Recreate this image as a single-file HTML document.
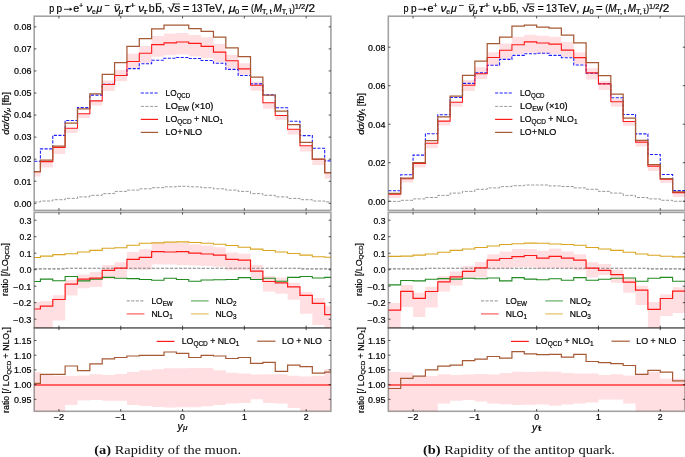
<!DOCTYPE html>
<html><head><meta charset="utf-8"><style>
html,body{margin:0;padding:0;background:#fff;overflow:hidden;width:685px;height:457px;}
svg{display:block;}
</style></head><body>
<svg width="685" height="457" viewBox="0 0 685 457">
<rect width="685" height="457" fill="#fff"/>
<clipPath id="ct0"><rect x="34.2" y="16.2" width="296.7" height="194.2"/></clipPath>
<clipPath id="cm0"><rect x="34.2" y="212.4" width="296.7" height="115.5"/></clipPath>
<clipPath id="cb0"><rect x="34.2" y="327.9" width="296.7" height="83.4"/></clipPath>
<g clip-path="url(#ct0)">
<path d="M34.23,171.5H40.41V161.3H52.77V147.1H65.13V127.9H77.49V113.5H89.85V100.6H102.21V80.5H114.57V70.1H126.93V53.7H139.29V46.1H151.65V36.1H164.01V33.4H176.37V33.1H188.73V35H201.09V37.2H213.45V44.1H225.81V54.8H238.17V63.3H250.53V81.6H262.89V102.5H275.25V115.2H287.61V129H299.97V145.4H312.33V158.9H324.69V172.4H330.87V178.5H324.69V165H312.33V151.5H299.97V134.4H287.61V120.1H275.25V108.7H262.89V90.8H250.53V74.7H238.17V68.6H225.81V62.5H213.45V57.9H201.09V56.4H188.73V54.5H176.37V55.3H164.01V56.8H151.65V62.9H139.29V68.3H126.93V81.3H114.57V90.9H102.21V105.4H89.85V117.9H77.49V133.1H65.13V154.1H52.77V167.6H40.41V176.4H34.23Z" fill="#ffdfe2"/>
<path d="M34.23,201.9H40.41V201H52.77V199.7H65.13V198.4H77.49V196.9H89.85V195.3H102.21V193.6H114.57V191.4H126.93V190.1H139.29V188.8H151.65V187.7H164.01V186.8H176.37V186.3H188.73V186.8H201.09V187.7H213.45V188.8H225.81V190.1H238.17V191.4H250.53V193.6H262.89V195.3H275.25V196.9H287.61V198.4H299.97V199.7H312.33V201H324.69V201.9H330.87" fill="none" stroke="#808080" stroke-width="0.8" stroke-dasharray="3.1 1.45"/>
<path d="M34.23,161.3H40.41V148.9H52.77V135.4H65.13V120.5H77.49V107.6H89.85V95.1H102.21V84.3H114.57V75.5H126.93V68.6H139.29V63.7H151.65V60.3H164.01V58.3H176.37V57.5H188.73V58.5H201.09V60.5H213.45V63.3H225.81V69.4H238.17V75.5H250.53V83.9H262.89V94.9H275.25V107.8H287.61V121.3H299.97V135.6H312.33V148.3H324.69V160.9H330.87" fill="none" stroke="#1f1fff" stroke-width="1.1" stroke-dasharray="3.1 1.45"/>
<path d="M34.23,171.8H40.41V161.6H52.77V147.4H65.13V128.2H77.49V113.8H89.85V100.9H102.21V84.5H114.57V75.5H126.93V61.5H139.29V53.3H151.65V44.6H164.01V42.9H176.37V42H188.73V43.4H201.09V46.4H213.45V52.1H225.81V60.8H238.17V68.9H250.53V85.3H262.89V102.8H275.25V115.5H287.61V129.3H299.97V145.7H312.33V159.2H324.69V172.7H330.87" fill="none" stroke="#ff1a1a" stroke-width="1.1"/>
<path d="M34.23,171.5H40.41V160.1H52.77V146.1H65.13V123.2H77.49V108.9H89.85V93.8H102.21V74.3H114.57V62.7H126.93V46.4H139.29V38.6H151.65V28.8H164.01V25.1H176.37V25.1H188.73V28.6H201.09V31.3H213.45V37.1H225.81V47.9H238.17V56.6H250.53V77.2H262.89V95.1H275.25V111.2H287.61V124.7H299.97V142.4H312.33V159.1H324.69V172.6H330.87" fill="none" stroke="#a65a35" stroke-width="1.25"/>
</g>
<g clip-path="url(#cm0)">
<path d="M34.23,302.1H40.41V301H52.77V295.2H65.13V279.9H77.49V274.5H89.85V272H102.21V265H114.57V262.2H126.93V252H139.29V249.2H151.65V243.1H164.01V243.1H176.37V243.1H188.73V244.3H201.09V245.5H213.45V247.2H225.81V252.5H238.17V253.7H250.53V265H262.89V276.2H275.25V277.4H287.61V282.7H299.97V292.1H312.33V298H324.69V305.7H330.87V335H324.69V324.9H312.33V313.8H299.97V299.8H287.61V293.7H275.25V291.5H262.89V279.7H250.53V270.3H238.17V270.3H225.81V266.7H213.45V266H201.09V265.6H188.73V265H176.37V264.4H164.01V264.4H151.65V269.7H139.29V269.7H126.93V277.4H114.57V279.1H102.21V286.9H89.85V288.3H77.49V295.5H65.13V320.5H52.77V335H40.41V335H34.23Z" fill="#ffdfe2"/>
<path d="M34.23,268.9H40.41V268.9H52.77V268.9H65.13V268.2H77.49V268.2H89.85V268.2H102.21V268.2H114.57V268.2H126.93V268.2H139.29V268.2H151.65V268.2H164.01V268.2H176.37V268.2H188.73V268.2H201.09V268.2H213.45V268.2H225.81V268.2H238.17V268.2H250.53V268.2H262.89V268.2H275.25V268.2H287.61V268.2H299.97V268.9H312.33V268.9H324.69V268.9H330.87" fill="none" stroke="#808080" stroke-width="1.1" stroke-dasharray="3.1 1.45"/>
<path d="M34.23,257.5H40.41V256.1H52.77V254.6H65.13V253.7H77.49V252H89.85V250.4H102.21V248.3H114.57V247.8H126.93V245.2H139.29V243.3H151.65V242.9H164.01V242.1H176.37V241.9H188.73V242.5H201.09V243.3H213.45V244.3H225.81V245.5H238.17V247.2H250.53V249.1H262.89V250.5H275.25V252H287.61V253.5H299.97V255.1H312.33V256.7H324.69V257.3H330.87" fill="none" stroke="#daa520" stroke-width="1.1"/>
<path d="M34.23,281.5H40.41V279.1H52.77V280.7H65.13V276.5H77.49V280.9H89.85V279.1H102.21V277.4H114.57V278.2H126.93V278.6H139.29V279.5H151.65V280.3H164.01V278.3H176.37V279.5H188.73V281.2H201.09V280H213.45V279.7H225.81V279.5H238.17V277.6H250.53V279.5H262.89V278.3H275.25V281.2H287.61V277.4H299.97V276.5H312.33V278H324.69V277.4H330.87" fill="none" stroke="#228b22" stroke-width="1.1"/>
<path d="M34.23,309H40.41V306.2H52.77V299.5H65.13V284.2H77.49V279.1H89.85V278.1H102.21V270.3H114.57V268.2H126.93V259.4H139.29V257.3H151.65V251.6H164.01V252H176.37V251.7H188.73V253.1H201.09V254H213.45V255.1H225.81V259.4H238.17V260.2H250.53V271.2H262.89V281.5H275.25V282.9H287.61V286.8H299.97V295.4H312.33V303.4H324.69V314.6H330.87" fill="none" stroke="#ff1a1a" stroke-width="1.2"/>
</g>
<g clip-path="url(#cb0)">
<path d="M34.23,372.1H40.41V375H52.77V375.8H65.13V376.1H77.49V375.5H89.85V374.3H102.21V375H114.57V374H126.93V372.1H139.29V370.2H151.65V369.2H164.01V368.2H176.37V368.3H188.73V368.1H201.09V368.1H213.45V370.2H225.81V372.8H238.17V373.6H250.53V374.6H262.89V374.3H275.25V374.3H287.61V375.8H299.97V376.5H312.33V375.8H324.69V369.2H330.87V415H324.69V415H312.33V415H299.97V408H287.61V403.6H275.25V402.9H262.89V399.2H250.53V402.9H238.17V403.6H225.81V405.1H213.45V406.2H201.09V407.3H188.73V407.3H176.37V407.5H164.01V407H151.65V406H139.29V405H126.93V400.7H114.57V400.7H102.21V400H89.85V400.4H77.49V405H65.13V415H52.77V415H40.41V415H34.23Z" fill="#ffdfe2"/>
<path d="M34.2,385.0H330.9" fill="none" stroke="#ff6060" stroke-width="1.8"/>
<path d="M34.23,383.4H40.41V374.3H52.77V374.3H65.13V366H77.49V370.6H89.85V363.8H102.21V358.9H114.57V357.5H126.93V356H139.29V355.3H151.65V355.3H164.01V352H176.37V353.3H188.73V357.5H201.09V355.3H213.45V356H225.81V358.5H238.17V357.5H250.53V363.3H262.89V362.3H275.25V371.4H287.61V365.2H299.97V366.7H312.33V373.1H324.69V372.1H330.87" fill="none" stroke="#a65a35" stroke-width="1.2"/>
</g>
<rect x="34.2" y="16.2" width="296.7" height="194.2" fill="none" stroke="#000" stroke-opacity="0.36" stroke-width="1.6"/>
<rect x="34.2" y="212.4" width="296.7" height="115.5" fill="none" stroke="#000" stroke-opacity="0.36" stroke-width="1.6"/>
<rect x="34.2" y="327.9" width="296.7" height="83.4" fill="none" stroke="#000" stroke-opacity="0.36" stroke-width="1.6"/>
<path d="M58.95,16.2v2.2M58.95,210.4v-2.2M120.75,16.2v2.2M120.75,210.4v-2.2M182.55,16.2v2.2M182.55,210.4v-2.2M244.35,16.2v2.2M244.35,210.4v-2.2M306.15,16.2v2.2M306.15,210.4v-2.2M58.95,212.4v2.2M58.95,327.9v-2.2M120.75,212.4v2.2M120.75,327.9v-2.2M182.55,212.4v2.2M182.55,327.9v-2.2M244.35,212.4v2.2M244.35,327.9v-2.2M306.15,212.4v2.2M306.15,327.9v-2.2M58.95,327.9v2.2M58.95,411.3v-2.2M120.75,327.9v2.2M120.75,411.3v-2.2M182.55,327.9v2.2M182.55,411.3v-2.2M244.35,327.9v2.2M244.35,411.3v-2.2M306.15,327.9v2.2M306.15,411.3v-2.2M34.2,203.3h2.2M330.9,203.3h-2.2M34.2,181.24h2.2M330.9,181.24h-2.2M34.2,159.18h2.2M330.9,159.18h-2.2M34.2,137.12h2.2M330.9,137.12h-2.2M34.2,115.06h2.2M330.9,115.06h-2.2M34.2,93h2.2M330.9,93h-2.2M34.2,70.94h2.2M330.9,70.94h-2.2M34.2,48.88h2.2M330.9,48.88h-2.2M34.2,26.82h2.2M330.9,26.82h-2.2M34.2,319.2h2.2M330.9,319.2h-2.2M34.2,302.7h2.2M330.9,302.7h-2.2M34.2,286.2h2.2M330.9,286.2h-2.2M34.2,269.7h2.2M330.9,269.7h-2.2M34.2,253.2h2.2M330.9,253.2h-2.2M34.2,236.7h2.2M330.9,236.7h-2.2M34.2,220.2h2.2M330.9,220.2h-2.2M34.2,399.3h2.2M330.9,399.3h-2.2M34.2,384.6h2.2M330.9,384.6h-2.2M34.2,369.9h2.2M330.9,369.9h-2.2M34.2,355.2h2.2M330.9,355.2h-2.2M34.2,340.5h2.2M330.9,340.5h-2.2" stroke="#222" stroke-width="0.8" fill="none"/>
<clipPath id="ct1"><rect x="388.3" y="16.2" width="296.7" height="194.2"/></clipPath>
<clipPath id="cm1"><rect x="388.3" y="212.4" width="296.7" height="115.5"/></clipPath>
<clipPath id="cb1"><rect x="388.3" y="327.9" width="296.7" height="83.4"/></clipPath>
<g clip-path="url(#ct1)">
<path d="M388.33,193.4H400.69V178.5H413.05V162.6H425.41V142.4H437.77V120.8H450.13V101.5H462.49V80H474.85V67.3H487.21V52.3H499.57V43.5H511.93V36.8H524.29V34.7H536.65V35.8H549.01V36.7H561.37V42H573.73V52.5H586.09V68.2H598.45V80.7H610.81V98.8H623.17V121.2H635.53V141.8H647.89V165.8H660.25V178.9H672.61V192.3H684.97V197H672.61V183H660.25V171H647.89V146.5H635.53V125.7H623.17V106.7H610.81V89.9H598.45V79.5H586.09V64.3H573.73V57H561.37V54H549.01V53.4H536.65V52.8H524.29V54H511.93V59.2H499.57V65.6H487.21V79H474.85V90.9H462.49V106.8H450.13V125.6H437.77V148.2H425.41V167.5H413.05V182.5H400.69V198H388.33Z" fill="#ffdfe2"/>
<path d="M388.33,201.4H400.69V200.3H413.05V198.9H425.41V197.5H437.77V195.4H450.13V193.1H462.49V191.4H474.85V189.3H487.21V187.9H499.57V186.6H511.93V185.7H524.29V185H536.65V185H549.01V185.9H561.37V186.5H573.73V187.9H586.09V189.3H598.45V191.4H610.81V193.1H623.17V195.4H635.53V197.5H647.89V198.9H660.25V200.3H672.61V201.3H684.97" fill="none" stroke="#808080" stroke-width="0.8" stroke-dasharray="3.1 1.45"/>
<path d="M388.33,190.7H400.69V174.8H413.05V155.1H425.41V133.8H437.77V114.7H450.13V97.5H462.49V83.4H474.85V72.9H487.21V65.3H499.57V59.4H511.93V55.4H524.29V53.7H536.65V53.2H549.01V55.4H561.37V57.8H573.73V65H586.09V73.3H598.45V83.6H610.81V97.8H623.17V114.5H635.53V133.9H647.89V154.5H660.25V174.5H672.61V190.6H684.97" fill="none" stroke="#1f1fff" stroke-width="1.1" stroke-dasharray="3.1 1.45"/>
<path d="M388.33,194.2H400.69V178.7H413.05V163.5H425.41V143.2H437.77V121.1H450.13V102.3H462.49V85.3H474.85V73.7H487.21V57.5H499.57V50.2H511.93V44.8H524.29V41.9H536.65V43H549.01V44.1H561.37V50.1H573.73V57.6H586.09V72.9H598.45V83.9H610.81V101.8H623.17V121.5H635.53V142.1H647.89V166.1H660.25V179.2H672.61V192.6H684.97" fill="none" stroke="#ff1a1a" stroke-width="1.1"/>
<path d="M388.33,193.3H400.69V178.1H413.05V162.7H425.41V140.6H437.77V116.9H450.13V96.2H462.49V75.3H474.85V61.1H487.21V43.6H499.57V37H511.93V26.1H524.29V25H536.65V27.1H549.01V28.2H561.37V35.2H573.73V42.9H586.09V62.5H598.45V75.7H610.81V94H623.17V118.2H635.53V140.3H647.89V164.7H660.25V178.6H672.61V191.8H684.97" fill="none" stroke="#a65a35" stroke-width="1.25"/>
</g>
<g clip-path="url(#cm1)">
<path d="M388.33,303.1H400.69V285H413.05V292.7H425.41V286.8H437.77V276.2H450.13V271.5H462.49V266.1H474.85V262H487.21V254.3H499.57V251.4H511.93V249H524.29V249H536.65V250.8H549.01V248.4H561.37V251.4H573.73V254.3H586.09V262.2H598.45V264.1H610.81V269.7H623.17V278.4H635.53V285.7H647.89V302H660.25V294.2H672.61V287.3H684.97V312.9H672.61V315.9H660.25V335H647.89V305H635.53V292.8H623.17V282.7H610.81V275H598.45V277.4H586.09V270.3H573.73V268.5H561.37V267.9H549.01V269.1H536.65V267.3H524.29V267.3H511.93V268.5H499.57V269.7H487.21V277.4H474.85V278.6H462.49V285.6H450.13V291.5H437.77V307.5H425.41V317H413.05V306.9H400.69V335H388.33Z" fill="#ffdfe2"/>
<path d="M388.33,268.9H400.69V268.9H413.05V268.9H425.41V268.2H437.77V268.2H450.13V268.2H462.49V268.2H474.85V268.2H487.21V268.2H499.57V268.2H511.93V268.2H524.29V268.2H536.65V268.2H549.01V268.2H561.37V268.2H573.73V268.2H586.09V268.2H598.45V268.2H610.81V268.2H623.17V268.2H635.53V268.2H647.89V268.9H660.25V268.9H672.61V268.9H684.97" fill="none" stroke="#808080" stroke-width="1.1" stroke-dasharray="3.1 1.45"/>
<path d="M388.33,256.4H400.69V256.1H413.05V255.1H425.41V254H437.77V252.3H450.13V250.4H462.49V249H474.85V247.5H487.21V246H499.57V244.5H511.93V243.7H524.29V243.1H536.65V243.3H549.01V244H561.37V244.5H573.73V245.2H586.09V247.5H598.45V249H610.81V250.4H623.17V252.3H635.53V254H647.89V255.3H660.25V256.3H672.61V256.9H684.97" fill="none" stroke="#daa520" stroke-width="1.1"/>
<path d="M388.33,284.9H400.69V280.5H413.05V280.9H425.41V279.3H437.77V278.6H450.13V279.1H462.49V278.2H474.85V278.8H487.21V278H499.57V280.9H511.93V277.6H524.29V279.1H536.65V279.8H549.01V278.8H561.37V280.3H573.73V277.6H586.09V280.3H598.45V279.3H610.81V278.2H623.17V278H635.53V281.2H647.89V278.3H660.25V277.4H672.61V281.2H684.97" fill="none" stroke="#228b22" stroke-width="1.1"/>
<path d="M388.33,310.2H400.69V291.3H413.05V298.4H425.41V291.5H437.77V281.9H450.13V276.8H462.49V271.4H474.85V267.9H487.21V260.2H499.57V258.5H511.93V256.7H524.29V255.5H536.65V258.2H549.01V256.3H561.37V258.2H573.73V260.2H586.09V268.2H598.45V270.3H610.81V274.6H623.17V282.2H635.53V290.2H647.89V309.4H660.25V298.5H672.61V291.2H684.97" fill="none" stroke="#ff1a1a" stroke-width="1.2"/>
</g>
<g clip-path="url(#cb1)">
<path d="M388.33,372.1H400.69V372.5H413.05V376.5H425.41V376.1H437.77V374.3H450.13V375H462.49V374.4H474.85V374H487.21V374.4H499.57V372.9H511.93V371.8H524.29V372H536.65V371.4H549.01V371.8H561.37V372.9H573.73V373.5H586.09V373.5H598.45V375H610.81V374.3H623.17V375.5H635.53V373.6H647.89V372.1H660.25V378.7H672.61V378.7H684.97V415H672.61V415H660.25V415H647.89V415H635.53V403.6H623.17V399.5H610.81V399.5H598.45V402.4H586.09V403.5H573.73V404.5H561.37V405.7H549.01V404.6H536.65V404.8H524.29V405.1H511.93V404.2H499.57V403.5H487.21V401.4H474.85V400H462.49V400.7H450.13V403.6H437.77V415H425.41V415H413.05V415H400.69V415H388.33Z" fill="#ffdfe2"/>
<path d="M388.3,385.0H685" fill="none" stroke="#ff6060" stroke-width="1.8"/>
<path d="M388.33,388.5H400.69V378.4H413.05V376.1H425.41V369.9H437.77V366.2H450.13V365.2H462.49V360.6H474.85V359.1H487.21V356.5H499.57V358.2H511.93V351.6H524.29V353.8H536.65V354.7H549.01V354.3H561.37V357.1H573.73V354.3H586.09V361.5H598.45V362.6H610.81V363.6H623.17V365.5H635.53V374.3H647.89V370.3H660.25V372.1H672.61V380.9H684.97" fill="none" stroke="#a65a35" stroke-width="1.2"/>
</g>
<rect x="388.3" y="16.2" width="296.7" height="194.2" fill="none" stroke="#000" stroke-opacity="0.36" stroke-width="1.6"/>
<rect x="388.3" y="212.4" width="296.7" height="115.5" fill="none" stroke="#000" stroke-opacity="0.36" stroke-width="1.6"/>
<rect x="388.3" y="327.9" width="296.7" height="83.4" fill="none" stroke="#000" stroke-opacity="0.36" stroke-width="1.6"/>
<path d="M413.05,16.2v2.2M413.05,210.4v-2.2M474.85,16.2v2.2M474.85,210.4v-2.2M536.65,16.2v2.2M536.65,210.4v-2.2M598.45,16.2v2.2M598.45,210.4v-2.2M660.25,16.2v2.2M660.25,210.4v-2.2M413.05,212.4v2.2M413.05,327.9v-2.2M474.85,212.4v2.2M474.85,327.9v-2.2M536.65,212.4v2.2M536.65,327.9v-2.2M598.45,212.4v2.2M598.45,327.9v-2.2M660.25,212.4v2.2M660.25,327.9v-2.2M413.05,327.9v2.2M413.05,411.3v-2.2M474.85,327.9v2.2M474.85,411.3v-2.2M536.65,327.9v2.2M536.65,411.3v-2.2M598.45,327.9v2.2M598.45,411.3v-2.2M660.25,327.9v2.2M660.25,411.3v-2.2M388.3,201.2h2.2M685,201.2h-2.2M388.3,162.7h2.2M685,162.7h-2.2M388.3,124.2h2.2M685,124.2h-2.2M388.3,85.7h2.2M685,85.7h-2.2M388.3,47.2h2.2M685,47.2h-2.2M388.3,319.2h2.2M685,319.2h-2.2M388.3,302.7h2.2M685,302.7h-2.2M388.3,286.2h2.2M685,286.2h-2.2M388.3,269.7h2.2M685,269.7h-2.2M388.3,253.2h2.2M685,253.2h-2.2M388.3,236.7h2.2M685,236.7h-2.2M388.3,220.2h2.2M685,220.2h-2.2M388.3,399.3h2.2M685,399.3h-2.2M388.3,384.6h2.2M685,384.6h-2.2M388.3,369.9h2.2M685,369.9h-2.2M388.3,355.2h2.2M685,355.2h-2.2M388.3,340.5h2.2M685,340.5h-2.2" stroke="#222" stroke-width="0.8" fill="none"/>
<path d="M64,9.3H71.5" stroke="#1a1a1a" stroke-width="0.9" fill="none"/>
<path d="M69.6,7.6L72.4,9.3L69.6,11.0Z" fill="#1a1a1a" stroke="none"/>
<path d="M115,4.7H119.8" stroke="#000" stroke-width="0.7"/>
<path d="M155.8,3.6H161.3" stroke="#000" stroke-width="0.7"/>
<path d="M172.2,3.9H180" stroke="#000" stroke-width="0.7"/>
<path d="M288.6,8.6H291.2" stroke="#000" stroke-width="0.5"/>
<path d="M418.3,9.3H425.8" stroke="#1a1a1a" stroke-width="0.9" fill="none"/>
<path d="M423.9,7.6L426.7,9.3L423.9,11.0Z" fill="#1a1a1a" stroke="none"/>
<path d="M469.3,4.7H474.1" stroke="#000" stroke-width="0.7"/>
<path d="M510.1,3.6H515.6" stroke="#000" stroke-width="0.7"/>
<path d="M526.5,3.9H534.3" stroke="#000" stroke-width="0.7"/>
<path d="M642.9,8.6H645.5" stroke="#000" stroke-width="0.5"/>
<path d="M140.8,93.0H158.1" stroke="#1f1fff" stroke-width="1.2" stroke-dasharray="3.1 1.45"/>
<path d="M140.8,106.4H158.1" stroke="#808080" stroke-width="0.8" stroke-dasharray="3.1 1.45"/>
<path d="M140.8,119.4H158.1" stroke="#ff1a1a" stroke-width="1.2"/>
<path d="M140.8,132.4H158.1" stroke="#a65a35" stroke-width="1.2"/>
<g stroke-opacity="0.7">
<path d="M126.7,300.9H144.4" stroke="#808080" stroke-width="1.1" stroke-dasharray="3.1 1.45"/>
<path d="M126.7,313.9H144.4" stroke="#ff1a1a" stroke-width="1.2"/>
<path d="M191,300.9H208.6" stroke="#228b22" stroke-width="1.2"/>
<path d="M191,313.9H208.6" stroke="#daa520" stroke-width="1.2"/>
</g>
<path d="M156.7,341.4H174.5" stroke="#ff1a1a" stroke-width="1.2"/>
<path d="M257.2,341.2H275.5" stroke="#a65a35" stroke-width="1.2"/>
<path d="M495.1,93.0H512.4" stroke="#1f1fff" stroke-width="1.2" stroke-dasharray="3.1 1.45"/>
<path d="M495.1,106.4H512.4" stroke="#808080" stroke-width="0.8" stroke-dasharray="3.1 1.45"/>
<path d="M495.1,119.4H512.4" stroke="#ff1a1a" stroke-width="1.2"/>
<path d="M495.1,132.4H512.4" stroke="#a65a35" stroke-width="1.2"/>
<g stroke-opacity="0.7">
<path d="M481,300.9H498.7" stroke="#808080" stroke-width="1.1" stroke-dasharray="3.1 1.45"/>
<path d="M481,313.9H498.7" stroke="#ff1a1a" stroke-width="1.2"/>
<path d="M545.3,300.9H562.9" stroke="#228b22" stroke-width="1.2"/>
<path d="M545.3,313.9H562.9" stroke="#daa520" stroke-width="1.2"/>
</g>
<path d="M511,341.4H528.8" stroke="#ff1a1a" stroke-width="1.2"/>
<path d="M611.5,341.2H629.8" stroke="#a65a35" stroke-width="1.2"/>
<path d="M538,425.9H541" stroke="#000" stroke-width="0.5"/>
<filter id="gs" x="0" y="0" width="685" height="457" filterUnits="userSpaceOnUse"><feOffset dx="0" dy="0"/></filter>
<g filter="url(#gs)" stroke="#000" stroke-width="0.2">
<text x="31.4" y="206.6" font-size="8.4" text-anchor="end" textLength="17.4" lengthAdjust="spacingAndGlyphs" fill="#000" font-family="Liberation Sans, sans-serif" >0.00</text>
<text x="31.4" y="184.54" font-size="8.4" text-anchor="end" textLength="17.4" lengthAdjust="spacingAndGlyphs" fill="#000" font-family="Liberation Sans, sans-serif" >0.01</text>
<text x="31.4" y="162.48" font-size="8.4" text-anchor="end" textLength="17.4" lengthAdjust="spacingAndGlyphs" fill="#000" font-family="Liberation Sans, sans-serif" >0.02</text>
<text x="31.4" y="140.42" font-size="8.4" text-anchor="end" textLength="17.4" lengthAdjust="spacingAndGlyphs" fill="#000" font-family="Liberation Sans, sans-serif" >0.03</text>
<text x="31.4" y="118.36" font-size="8.4" text-anchor="end" textLength="17.4" lengthAdjust="spacingAndGlyphs" fill="#000" font-family="Liberation Sans, sans-serif" >0.04</text>
<text x="31.4" y="96.3" font-size="8.4" text-anchor="end" textLength="17.4" lengthAdjust="spacingAndGlyphs" fill="#000" font-family="Liberation Sans, sans-serif" >0.05</text>
<text x="31.4" y="74.24" font-size="8.4" text-anchor="end" textLength="17.4" lengthAdjust="spacingAndGlyphs" fill="#000" font-family="Liberation Sans, sans-serif" >0.06</text>
<text x="31.4" y="52.18" font-size="8.4" text-anchor="end" textLength="17.4" lengthAdjust="spacingAndGlyphs" fill="#000" font-family="Liberation Sans, sans-serif" >0.07</text>
<text x="31.4" y="30.12" font-size="8.4" text-anchor="end" textLength="17.4" lengthAdjust="spacingAndGlyphs" fill="#000" font-family="Liberation Sans, sans-serif" >0.08</text>
<text x="31.4" y="322.5" font-size="8.4" text-anchor="end" textLength="18.1" lengthAdjust="spacingAndGlyphs" fill="#000" font-family="Liberation Sans, sans-serif" >−0.3</text>
<text x="31.4" y="306" font-size="8.4" text-anchor="end" textLength="18.1" lengthAdjust="spacingAndGlyphs" fill="#000" font-family="Liberation Sans, sans-serif" >−0.2</text>
<text x="31.4" y="289.5" font-size="8.4" text-anchor="end" textLength="18.1" lengthAdjust="spacingAndGlyphs" fill="#000" font-family="Liberation Sans, sans-serif" >−0.1</text>
<text x="31.4" y="273" font-size="8.4" text-anchor="end" textLength="11.9" lengthAdjust="spacingAndGlyphs" fill="#000" font-family="Liberation Sans, sans-serif" >0.0</text>
<text x="31.4" y="256.5" font-size="8.4" text-anchor="end" textLength="11.9" lengthAdjust="spacingAndGlyphs" fill="#000" font-family="Liberation Sans, sans-serif" >0.1</text>
<text x="31.4" y="240" font-size="8.4" text-anchor="end" textLength="11.9" lengthAdjust="spacingAndGlyphs" fill="#000" font-family="Liberation Sans, sans-serif" >0.2</text>
<text x="31.4" y="223.5" font-size="8.4" text-anchor="end" textLength="11.9" lengthAdjust="spacingAndGlyphs" fill="#000" font-family="Liberation Sans, sans-serif" >0.3</text>
<text x="31.4" y="402.6" font-size="8.4" text-anchor="end" textLength="17.4" lengthAdjust="spacingAndGlyphs" fill="#000" font-family="Liberation Sans, sans-serif" >0.95</text>
<text x="31.4" y="387.9" font-size="8.4" text-anchor="end" textLength="17.4" lengthAdjust="spacingAndGlyphs" fill="#000" font-family="Liberation Sans, sans-serif" >1.00</text>
<text x="31.4" y="373.2" font-size="8.4" text-anchor="end" textLength="17.4" lengthAdjust="spacingAndGlyphs" fill="#000" font-family="Liberation Sans, sans-serif" >1.05</text>
<text x="31.4" y="358.5" font-size="8.4" text-anchor="end" textLength="17.4" lengthAdjust="spacingAndGlyphs" fill="#000" font-family="Liberation Sans, sans-serif" >1.10</text>
<text x="31.4" y="343.8" font-size="8.4" text-anchor="end" textLength="17.4" lengthAdjust="spacingAndGlyphs" fill="#000" font-family="Liberation Sans, sans-serif" >1.15</text>
<text x="58.95" y="419.9" font-size="8.4" text-anchor="middle" textLength="10.5" lengthAdjust="spacingAndGlyphs" fill="#000" font-family="Liberation Sans, sans-serif" >−2</text>
<text x="120.75" y="419.9" font-size="8.4" text-anchor="middle" textLength="10.5" lengthAdjust="spacingAndGlyphs" fill="#000" font-family="Liberation Sans, sans-serif" >−1</text>
<text x="182.55" y="419.9" font-size="8.4" text-anchor="middle" textLength="4.9" lengthAdjust="spacingAndGlyphs" fill="#000" font-family="Liberation Sans, sans-serif" >0</text>
<text x="244.35" y="419.9" font-size="8.4" text-anchor="middle" textLength="4.9" lengthAdjust="spacingAndGlyphs" fill="#000" font-family="Liberation Sans, sans-serif" >1</text>
<text x="306.15" y="419.9" font-size="8.4" text-anchor="middle" textLength="4.9" lengthAdjust="spacingAndGlyphs" fill="#000" font-family="Liberation Sans, sans-serif" >2</text>
<text x="385.5" y="204.5" font-size="8.4" text-anchor="end" textLength="17.4" lengthAdjust="spacingAndGlyphs" fill="#000" font-family="Liberation Sans, sans-serif" >0.00</text>
<text x="385.5" y="166" font-size="8.4" text-anchor="end" textLength="17.4" lengthAdjust="spacingAndGlyphs" fill="#000" font-family="Liberation Sans, sans-serif" >0.02</text>
<text x="385.5" y="127.5" font-size="8.4" text-anchor="end" textLength="17.4" lengthAdjust="spacingAndGlyphs" fill="#000" font-family="Liberation Sans, sans-serif" >0.04</text>
<text x="385.5" y="89" font-size="8.4" text-anchor="end" textLength="17.4" lengthAdjust="spacingAndGlyphs" fill="#000" font-family="Liberation Sans, sans-serif" >0.06</text>
<text x="385.5" y="50.5" font-size="8.4" text-anchor="end" textLength="17.4" lengthAdjust="spacingAndGlyphs" fill="#000" font-family="Liberation Sans, sans-serif" >0.08</text>
<text x="385.5" y="322.5" font-size="8.4" text-anchor="end" textLength="18.1" lengthAdjust="spacingAndGlyphs" fill="#000" font-family="Liberation Sans, sans-serif" >−0.3</text>
<text x="385.5" y="306" font-size="8.4" text-anchor="end" textLength="18.1" lengthAdjust="spacingAndGlyphs" fill="#000" font-family="Liberation Sans, sans-serif" >−0.2</text>
<text x="385.5" y="289.5" font-size="8.4" text-anchor="end" textLength="18.1" lengthAdjust="spacingAndGlyphs" fill="#000" font-family="Liberation Sans, sans-serif" >−0.1</text>
<text x="385.5" y="273" font-size="8.4" text-anchor="end" textLength="11.9" lengthAdjust="spacingAndGlyphs" fill="#000" font-family="Liberation Sans, sans-serif" >0.0</text>
<text x="385.5" y="256.5" font-size="8.4" text-anchor="end" textLength="11.9" lengthAdjust="spacingAndGlyphs" fill="#000" font-family="Liberation Sans, sans-serif" >0.1</text>
<text x="385.5" y="240" font-size="8.4" text-anchor="end" textLength="11.9" lengthAdjust="spacingAndGlyphs" fill="#000" font-family="Liberation Sans, sans-serif" >0.2</text>
<text x="385.5" y="223.5" font-size="8.4" text-anchor="end" textLength="11.9" lengthAdjust="spacingAndGlyphs" fill="#000" font-family="Liberation Sans, sans-serif" >0.3</text>
<text x="385.5" y="402.6" font-size="8.4" text-anchor="end" textLength="17.4" lengthAdjust="spacingAndGlyphs" fill="#000" font-family="Liberation Sans, sans-serif" >0.95</text>
<text x="385.5" y="387.9" font-size="8.4" text-anchor="end" textLength="17.4" lengthAdjust="spacingAndGlyphs" fill="#000" font-family="Liberation Sans, sans-serif" >1.00</text>
<text x="385.5" y="373.2" font-size="8.4" text-anchor="end" textLength="17.4" lengthAdjust="spacingAndGlyphs" fill="#000" font-family="Liberation Sans, sans-serif" >1.05</text>
<text x="385.5" y="358.5" font-size="8.4" text-anchor="end" textLength="17.4" lengthAdjust="spacingAndGlyphs" fill="#000" font-family="Liberation Sans, sans-serif" >1.10</text>
<text x="385.5" y="343.8" font-size="8.4" text-anchor="end" textLength="17.4" lengthAdjust="spacingAndGlyphs" fill="#000" font-family="Liberation Sans, sans-serif" >1.15</text>
<text x="413.05" y="419.9" font-size="8.4" text-anchor="middle" textLength="10.5" lengthAdjust="spacingAndGlyphs" fill="#000" font-family="Liberation Sans, sans-serif" >−2</text>
<text x="474.85" y="419.9" font-size="8.4" text-anchor="middle" textLength="10.5" lengthAdjust="spacingAndGlyphs" fill="#000" font-family="Liberation Sans, sans-serif" >−1</text>
<text x="536.65" y="419.9" font-size="8.4" text-anchor="middle" textLength="4.9" lengthAdjust="spacingAndGlyphs" fill="#000" font-family="Liberation Sans, sans-serif" >0</text>
<text x="598.45" y="419.9" font-size="8.4" text-anchor="middle" textLength="4.9" lengthAdjust="spacingAndGlyphs" fill="#000" font-family="Liberation Sans, sans-serif" >1</text>
<text x="660.25" y="419.9" font-size="8.4" text-anchor="middle" textLength="4.9" lengthAdjust="spacingAndGlyphs" fill="#000" font-family="Liberation Sans, sans-serif" >2</text>
<text x="49.3" y="12.1" font-size="10.0" textLength="5" lengthAdjust="spacingAndGlyphs" fill="#000" font-family="Liberation Sans, sans-serif">p</text>
<text x="56.6" y="12.1" font-size="10.0" textLength="5.6" lengthAdjust="spacingAndGlyphs" fill="#000" font-family="Liberation Sans, sans-serif">p</text>
<text x="73.2" y="12.1" font-size="10.0" textLength="6" lengthAdjust="spacingAndGlyphs" fill="#000" font-family="Liberation Sans, sans-serif">e</text>
<text x="79" y="8.2" font-size="7.0" textLength="4.2" lengthAdjust="spacingAndGlyphs" fill="#000" font-family="Liberation Sans, sans-serif">+</text>
<text x="86.3" y="12.1" font-size="10.0" textLength="6" lengthAdjust="spacingAndGlyphs" font-style="italic" fill="#000" font-family="Liberation Sans, sans-serif">ν</text>
<text x="92" y="13.7" font-size="7.0" textLength="3.8" lengthAdjust="spacingAndGlyphs" fill="#000" font-family="Liberation Sans, sans-serif">e</text>
<text x="96.6" y="12.1" font-size="10.0" textLength="5.7" lengthAdjust="spacingAndGlyphs" font-style="italic" fill="#000" font-family="Liberation Sans, sans-serif">μ</text>
<text x="104.2" y="8.2" font-size="7.0" textLength="5.2" lengthAdjust="spacingAndGlyphs" fill="#000" font-family="Liberation Sans, sans-serif">−</text>
<text x="113.9" y="12.1" font-size="10.0" textLength="6" lengthAdjust="spacingAndGlyphs" font-style="italic" fill="#000" font-family="Liberation Sans, sans-serif">ν</text>
<text x="118.8" y="13.7" font-size="7.0" textLength="4.4" lengthAdjust="spacingAndGlyphs" font-style="italic" fill="#000" font-family="Liberation Sans, sans-serif">μ</text>
<text x="124.5" y="12.1" font-size="10.0" textLength="5.5" lengthAdjust="spacingAndGlyphs" font-style="italic" fill="#000" font-family="Liberation Sans, sans-serif">τ</text>
<text x="129.8" y="8.2" font-size="7.0" textLength="5.9" lengthAdjust="spacingAndGlyphs" fill="#000" font-family="Liberation Sans, sans-serif">+</text>
<text x="138.2" y="12.1" font-size="10.0" textLength="5.8" lengthAdjust="spacingAndGlyphs" font-style="italic" fill="#000" font-family="Liberation Sans, sans-serif">ν</text>
<text x="143.3" y="13.7" font-size="7.0" textLength="3.9" lengthAdjust="spacingAndGlyphs" font-style="italic" fill="#000" font-family="Liberation Sans, sans-serif">τ</text>
<text x="148.7" y="12.1" font-size="10.0" textLength="5.9" lengthAdjust="spacingAndGlyphs" fill="#000" font-family="Liberation Sans, sans-serif">b</text>
<text x="155.3" y="12.1" font-size="10.0" textLength="6.4" lengthAdjust="spacingAndGlyphs" fill="#000" font-family="Liberation Sans, sans-serif">b</text>
<text x="161.5" y="12.1" font-size="10.0" textLength="2.9" lengthAdjust="spacingAndGlyphs" fill="#000" font-family="Liberation Sans, sans-serif">,</text>
<text x="167.5" y="12.1" font-size="10.0" textLength="7.1" lengthAdjust="spacingAndGlyphs" fill="#000" font-family="Liberation Sans, sans-serif">√</text>
<text x="173.9" y="12.1" font-size="10.0" textLength="6.4" lengthAdjust="spacingAndGlyphs" font-style="italic" fill="#000" font-family="Liberation Sans, sans-serif">s</text>
<text x="183.1" y="12.1" font-size="10.0" textLength="6.3" lengthAdjust="spacingAndGlyphs" fill="#000" font-family="Liberation Sans, sans-serif">=</text>
<text x="191.7" y="12.1" font-size="10.0" textLength="10.8" lengthAdjust="spacingAndGlyphs" fill="#000" font-family="Liberation Sans, sans-serif">13</text>
<text x="203.6" y="12.1" font-size="10.0" textLength="18.6" lengthAdjust="spacingAndGlyphs" fill="#000" font-family="Liberation Sans, sans-serif">TeV</text>
<text x="221.9" y="12.1" font-size="10.0" textLength="3" lengthAdjust="spacingAndGlyphs" fill="#000" font-family="Liberation Sans, sans-serif">,</text>
<text x="228.7" y="12.1" font-size="10.0" textLength="6.8" lengthAdjust="spacingAndGlyphs" font-style="italic" fill="#000" font-family="Liberation Sans, sans-serif">μ</text>
<text x="235.1" y="13.7" font-size="7.0" textLength="4.2" lengthAdjust="spacingAndGlyphs" fill="#000" font-family="Liberation Sans, sans-serif">0</text>
<text x="241.8" y="12.1" font-size="10.0" textLength="6.6" lengthAdjust="spacingAndGlyphs" fill="#000" font-family="Liberation Sans, sans-serif">=</text>
<text x="251" y="12.1" font-size="10.0" textLength="3" lengthAdjust="spacingAndGlyphs" fill="#000" font-family="Liberation Sans, sans-serif">(</text>
<text x="254" y="12.1" font-size="10.0" textLength="8.3" lengthAdjust="spacingAndGlyphs" font-style="italic" fill="#000" font-family="Liberation Sans, sans-serif">M</text>
<text x="262" y="13.7" font-size="7.0" textLength="9.8" lengthAdjust="spacingAndGlyphs" fill="#000" font-family="Liberation Sans, sans-serif">T, t</text>
<text x="273.4" y="12.1" font-size="10.0" textLength="8.3" lengthAdjust="spacingAndGlyphs" font-style="italic" fill="#000" font-family="Liberation Sans, sans-serif">M</text>
<text x="281.8" y="13.7" font-size="7.0" textLength="9.8" lengthAdjust="spacingAndGlyphs" fill="#000" font-family="Liberation Sans, sans-serif">T, t</text>
<text x="291.9" y="12.1" font-size="10.0" textLength="2.9" lengthAdjust="spacingAndGlyphs" fill="#000" font-family="Liberation Sans, sans-serif">)</text>
<text x="294.8" y="8.5" font-size="7.0" textLength="10.4" lengthAdjust="spacingAndGlyphs" fill="#000" font-family="Liberation Sans, sans-serif">1/2</text>
<text x="305" y="12.1" font-size="10.0" textLength="3.6" lengthAdjust="spacingAndGlyphs" fill="#000" font-family="Liberation Sans, sans-serif">/</text>
<text x="308.5" y="12.1" font-size="10.0" textLength="6.5" lengthAdjust="spacingAndGlyphs" fill="#000" font-family="Liberation Sans, sans-serif">2</text>
<text x="403.6" y="12.1" font-size="10.0" textLength="5" lengthAdjust="spacingAndGlyphs" fill="#000" font-family="Liberation Sans, sans-serif">p</text>
<text x="410.9" y="12.1" font-size="10.0" textLength="5.6" lengthAdjust="spacingAndGlyphs" fill="#000" font-family="Liberation Sans, sans-serif">p</text>
<text x="427.5" y="12.1" font-size="10.0" textLength="6" lengthAdjust="spacingAndGlyphs" fill="#000" font-family="Liberation Sans, sans-serif">e</text>
<text x="433.3" y="8.2" font-size="7.0" textLength="4.2" lengthAdjust="spacingAndGlyphs" fill="#000" font-family="Liberation Sans, sans-serif">+</text>
<text x="440.6" y="12.1" font-size="10.0" textLength="6" lengthAdjust="spacingAndGlyphs" font-style="italic" fill="#000" font-family="Liberation Sans, sans-serif">ν</text>
<text x="446.3" y="13.7" font-size="7.0" textLength="3.8" lengthAdjust="spacingAndGlyphs" fill="#000" font-family="Liberation Sans, sans-serif">e</text>
<text x="450.9" y="12.1" font-size="10.0" textLength="5.7" lengthAdjust="spacingAndGlyphs" font-style="italic" fill="#000" font-family="Liberation Sans, sans-serif">μ</text>
<text x="458.5" y="8.2" font-size="7.0" textLength="5.2" lengthAdjust="spacingAndGlyphs" fill="#000" font-family="Liberation Sans, sans-serif">−</text>
<text x="468.2" y="12.1" font-size="10.0" textLength="6" lengthAdjust="spacingAndGlyphs" font-style="italic" fill="#000" font-family="Liberation Sans, sans-serif">ν</text>
<text x="473.1" y="13.7" font-size="7.0" textLength="4.4" lengthAdjust="spacingAndGlyphs" font-style="italic" fill="#000" font-family="Liberation Sans, sans-serif">μ</text>
<text x="478.8" y="12.1" font-size="10.0" textLength="5.5" lengthAdjust="spacingAndGlyphs" font-style="italic" fill="#000" font-family="Liberation Sans, sans-serif">τ</text>
<text x="484.1" y="8.2" font-size="7.0" textLength="5.9" lengthAdjust="spacingAndGlyphs" fill="#000" font-family="Liberation Sans, sans-serif">+</text>
<text x="492.5" y="12.1" font-size="10.0" textLength="5.8" lengthAdjust="spacingAndGlyphs" font-style="italic" fill="#000" font-family="Liberation Sans, sans-serif">ν</text>
<text x="497.6" y="13.7" font-size="7.0" textLength="3.9" lengthAdjust="spacingAndGlyphs" font-style="italic" fill="#000" font-family="Liberation Sans, sans-serif">τ</text>
<text x="503" y="12.1" font-size="10.0" textLength="5.9" lengthAdjust="spacingAndGlyphs" fill="#000" font-family="Liberation Sans, sans-serif">b</text>
<text x="509.6" y="12.1" font-size="10.0" textLength="6.4" lengthAdjust="spacingAndGlyphs" fill="#000" font-family="Liberation Sans, sans-serif">b</text>
<text x="515.8" y="12.1" font-size="10.0" textLength="2.9" lengthAdjust="spacingAndGlyphs" fill="#000" font-family="Liberation Sans, sans-serif">,</text>
<text x="521.8" y="12.1" font-size="10.0" textLength="7.1" lengthAdjust="spacingAndGlyphs" fill="#000" font-family="Liberation Sans, sans-serif">√</text>
<text x="528.2" y="12.1" font-size="10.0" textLength="6.4" lengthAdjust="spacingAndGlyphs" font-style="italic" fill="#000" font-family="Liberation Sans, sans-serif">s</text>
<text x="537.4" y="12.1" font-size="10.0" textLength="6.3" lengthAdjust="spacingAndGlyphs" fill="#000" font-family="Liberation Sans, sans-serif">=</text>
<text x="546" y="12.1" font-size="10.0" textLength="10.8" lengthAdjust="spacingAndGlyphs" fill="#000" font-family="Liberation Sans, sans-serif">13</text>
<text x="557.9" y="12.1" font-size="10.0" textLength="18.6" lengthAdjust="spacingAndGlyphs" fill="#000" font-family="Liberation Sans, sans-serif">TeV</text>
<text x="576.2" y="12.1" font-size="10.0" textLength="3" lengthAdjust="spacingAndGlyphs" fill="#000" font-family="Liberation Sans, sans-serif">,</text>
<text x="583" y="12.1" font-size="10.0" textLength="6.8" lengthAdjust="spacingAndGlyphs" font-style="italic" fill="#000" font-family="Liberation Sans, sans-serif">μ</text>
<text x="589.4" y="13.7" font-size="7.0" textLength="4.2" lengthAdjust="spacingAndGlyphs" fill="#000" font-family="Liberation Sans, sans-serif">0</text>
<text x="596.1" y="12.1" font-size="10.0" textLength="6.6" lengthAdjust="spacingAndGlyphs" fill="#000" font-family="Liberation Sans, sans-serif">=</text>
<text x="605.3" y="12.1" font-size="10.0" textLength="3" lengthAdjust="spacingAndGlyphs" fill="#000" font-family="Liberation Sans, sans-serif">(</text>
<text x="608.3" y="12.1" font-size="10.0" textLength="8.3" lengthAdjust="spacingAndGlyphs" font-style="italic" fill="#000" font-family="Liberation Sans, sans-serif">M</text>
<text x="616.3" y="13.7" font-size="7.0" textLength="9.8" lengthAdjust="spacingAndGlyphs" fill="#000" font-family="Liberation Sans, sans-serif">T, t</text>
<text x="627.7" y="12.1" font-size="10.0" textLength="8.3" lengthAdjust="spacingAndGlyphs" font-style="italic" fill="#000" font-family="Liberation Sans, sans-serif">M</text>
<text x="636.1" y="13.7" font-size="7.0" textLength="9.8" lengthAdjust="spacingAndGlyphs" fill="#000" font-family="Liberation Sans, sans-serif">T, t</text>
<text x="646.2" y="12.1" font-size="10.0" textLength="2.9" lengthAdjust="spacingAndGlyphs" fill="#000" font-family="Liberation Sans, sans-serif">)</text>
<text x="649.1" y="8.5" font-size="7.0" textLength="10.4" lengthAdjust="spacingAndGlyphs" fill="#000" font-family="Liberation Sans, sans-serif">1/2</text>
<text x="659.3" y="12.1" font-size="10.0" textLength="3.6" lengthAdjust="spacingAndGlyphs" fill="#000" font-family="Liberation Sans, sans-serif">/</text>
<text x="662.8" y="12.1" font-size="10.0" textLength="6.5" lengthAdjust="spacingAndGlyphs" fill="#000" font-family="Liberation Sans, sans-serif">2</text>
<text x="165.6" y="95.9" textLength="24.6" lengthAdjust="spacingAndGlyphs" fill="#000" font-family="Liberation Sans, sans-serif"><tspan font-size="8.8">LO</tspan><tspan font-size="6.5" dy="1.70">QCD</tspan></text>
<text x="165.6" y="109.3" textLength="47.8" lengthAdjust="spacingAndGlyphs" fill="#000" font-family="Liberation Sans, sans-serif"><tspan font-size="8.8">LO</tspan><tspan font-size="6.5" dy="1.70">EW</tspan><tspan font-size="8.8" dy="-1.70"> (×10)</tspan></text>
<text x="165.6" y="122.3" textLength="57.6" lengthAdjust="spacingAndGlyphs" fill="#000" font-family="Liberation Sans, sans-serif"><tspan font-size="8.8">LO</tspan><tspan font-size="6.5" dy="1.70">QCD</tspan><tspan font-size="8.8" dy="-1.70"> + NLO</tspan><tspan font-size="6.5" dy="1.70">1</tspan></text>
<text x="165.6" y="135.3" font-size="8.8" textLength="11.7" lengthAdjust="spacingAndGlyphs" fill="#000" font-family="Liberation Sans, sans-serif">LO</text>
<text x="177.6" y="135.3" font-size="8.8" textLength="5" lengthAdjust="spacingAndGlyphs" fill="#000" font-family="Liberation Sans, sans-serif">+</text>
<text x="183.4" y="135.3" font-size="8.8" textLength="18.8" lengthAdjust="spacingAndGlyphs" fill="#000" font-family="Liberation Sans, sans-serif">NLO</text>
<text x="151.4" y="303.9" textLength="21.3" lengthAdjust="spacingAndGlyphs" fill="#000" font-family="Liberation Sans, sans-serif"><tspan font-size="8.8">LO</tspan><tspan font-size="6.5" dy="1.70">EW</tspan></text>
<text x="151.4" y="316.9" textLength="21.3" lengthAdjust="spacingAndGlyphs" fill="#000" font-family="Liberation Sans, sans-serif"><tspan font-size="8.8">NLO</tspan><tspan font-size="6.5" dy="1.70">1</tspan></text>
<text x="215.4" y="303.9" textLength="21.2" lengthAdjust="spacingAndGlyphs" fill="#000" font-family="Liberation Sans, sans-serif"><tspan font-size="8.8">NLO</tspan><tspan font-size="6.5" dy="1.70">2</tspan></text>
<text x="215.4" y="316.9" textLength="21.2" lengthAdjust="spacingAndGlyphs" fill="#000" font-family="Liberation Sans, sans-serif"><tspan font-size="8.8">NLO</tspan><tspan font-size="6.5" dy="1.70">3</tspan></text>
<text x="181.7" y="344" textLength="57.7" lengthAdjust="spacingAndGlyphs" fill="#000" font-family="Liberation Sans, sans-serif"><tspan font-size="8.8">LO</tspan><tspan font-size="6.5" dy="1.70">QCD</tspan><tspan font-size="8.8" dy="-1.70"> + NLO</tspan><tspan font-size="6.5" dy="1.70">1</tspan></text>
<text x="282" y="344" textLength="40" lengthAdjust="spacingAndGlyphs" fill="#000" font-family="Liberation Sans, sans-serif"><tspan font-size="8.8">LO + NLO</tspan></text>
<text x="519.9" y="95.9" textLength="24.6" lengthAdjust="spacingAndGlyphs" fill="#000" font-family="Liberation Sans, sans-serif"><tspan font-size="8.8">LO</tspan><tspan font-size="6.5" dy="1.70">QCD</tspan></text>
<text x="519.9" y="109.3" textLength="47.8" lengthAdjust="spacingAndGlyphs" fill="#000" font-family="Liberation Sans, sans-serif"><tspan font-size="8.8">LO</tspan><tspan font-size="6.5" dy="1.70">EW</tspan><tspan font-size="8.8" dy="-1.70"> (×10)</tspan></text>
<text x="519.9" y="122.3" textLength="57.6" lengthAdjust="spacingAndGlyphs" fill="#000" font-family="Liberation Sans, sans-serif"><tspan font-size="8.8">LO</tspan><tspan font-size="6.5" dy="1.70">QCD</tspan><tspan font-size="8.8" dy="-1.70"> + NLO</tspan><tspan font-size="6.5" dy="1.70">1</tspan></text>
<text x="519.9" y="135.3" font-size="8.8" textLength="11.7" lengthAdjust="spacingAndGlyphs" fill="#000" font-family="Liberation Sans, sans-serif">LO</text>
<text x="531.9" y="135.3" font-size="8.8" textLength="5" lengthAdjust="spacingAndGlyphs" fill="#000" font-family="Liberation Sans, sans-serif">+</text>
<text x="537.7" y="135.3" font-size="8.8" textLength="18.8" lengthAdjust="spacingAndGlyphs" fill="#000" font-family="Liberation Sans, sans-serif">NLO</text>
<text x="505.7" y="303.9" textLength="21.3" lengthAdjust="spacingAndGlyphs" fill="#000" font-family="Liberation Sans, sans-serif"><tspan font-size="8.8">LO</tspan><tspan font-size="6.5" dy="1.70">EW</tspan></text>
<text x="505.7" y="316.9" textLength="21.3" lengthAdjust="spacingAndGlyphs" fill="#000" font-family="Liberation Sans, sans-serif"><tspan font-size="8.8">NLO</tspan><tspan font-size="6.5" dy="1.70">1</tspan></text>
<text x="569.7" y="303.9" textLength="21.2" lengthAdjust="spacingAndGlyphs" fill="#000" font-family="Liberation Sans, sans-serif"><tspan font-size="8.8">NLO</tspan><tspan font-size="6.5" dy="1.70">2</tspan></text>
<text x="569.7" y="316.9" textLength="21.2" lengthAdjust="spacingAndGlyphs" fill="#000" font-family="Liberation Sans, sans-serif"><tspan font-size="8.8">NLO</tspan><tspan font-size="6.5" dy="1.70">3</tspan></text>
<text x="536" y="344" textLength="57.7" lengthAdjust="spacingAndGlyphs" fill="#000" font-family="Liberation Sans, sans-serif"><tspan font-size="8.8">LO</tspan><tspan font-size="6.5" dy="1.70">QCD</tspan><tspan font-size="8.8" dy="-1.70"> + NLO</tspan><tspan font-size="6.5" dy="1.70">1</tspan></text>
<text x="636.3" y="344" textLength="40" lengthAdjust="spacingAndGlyphs" fill="#000" font-family="Liberation Sans, sans-serif"><tspan font-size="8.8">LO + NLO</tspan></text>
<text transform="translate(8.6,134.8) rotate(-90)" x="0" y="0" textLength="42.7" lengthAdjust="spacingAndGlyphs" fill="#000" font-family="Liberation Sans, sans-serif"><tspan font-size="8.8" font-style="italic">dσ/dy</tspan><tspan font-size="6.2" dy="1.50" font-style="italic">μ</tspan><tspan font-size="8.8" dy="-1.50"> [fb]</tspan></text>
<text transform="translate(7.9,296) rotate(-90)" x="0" y="0" textLength="53" lengthAdjust="spacingAndGlyphs" fill="#000" font-family="Liberation Sans, sans-serif"><tspan font-size="8.8">ratio [/LO</tspan><tspan font-size="6.2" dy="1.50">QCD</tspan><tspan font-size="8.8" dy="-1.50">]</tspan></text>
<text transform="translate(9.4,412.9) rotate(-90)" x="0" y="0" textLength="85.9" lengthAdjust="spacingAndGlyphs" fill="#000" font-family="Liberation Sans, sans-serif"><tspan font-size="8.8">ratio [/ LO</tspan><tspan font-size="6.2" dy="1.50">QCD</tspan><tspan font-size="8.8" dy="-1.50"> + NLO</tspan><tspan font-size="6.2" dy="1.50">1</tspan><tspan font-size="8.8" dy="-1.50">]</tspan></text>
<text x="177.4" y="429.7" font-size="10.4" textLength="5.2" lengthAdjust="spacingAndGlyphs" font-style="italic" fill="#000" font-family="Liberation Sans, sans-serif">y</text>
<text x="182.9" y="430.4" font-size="6.8" textLength="4.5" lengthAdjust="spacingAndGlyphs" font-style="italic" fill="#000" font-family="Liberation Sans, sans-serif">μ</text>
<text transform="translate(363.8,134.8) rotate(-90)" x="0" y="0" textLength="41.8" lengthAdjust="spacingAndGlyphs" fill="#000" font-family="Liberation Sans, sans-serif"><tspan font-size="8.8" font-style="italic">dσ/dy</tspan><tspan font-size="6.2" dy="1.50">t</tspan><tspan font-size="8.8" dy="-1.50"> [fb]</tspan></text>
<text transform="translate(361.8,296) rotate(-90)" x="0" y="0" textLength="53" lengthAdjust="spacingAndGlyphs" fill="#000" font-family="Liberation Sans, sans-serif"><tspan font-size="8.8">ratio [/LO</tspan><tspan font-size="6.2" dy="1.50">QCD</tspan><tspan font-size="8.8" dy="-1.50">]</tspan></text>
<text transform="translate(363.8,412.9) rotate(-90)" x="0" y="0" textLength="85.9" lengthAdjust="spacingAndGlyphs" fill="#000" font-family="Liberation Sans, sans-serif"><tspan font-size="8.8">ratio [/ LO</tspan><tspan font-size="6.2" dy="1.50">QCD</tspan><tspan font-size="8.8" dy="-1.50"> + NLO</tspan><tspan font-size="6.2" dy="1.50">1</tspan><tspan font-size="8.8" dy="-1.50">]</tspan></text>
<text x="532" y="430.6" font-size="10.4" textLength="5.2" lengthAdjust="spacingAndGlyphs" font-style="italic" fill="#000" font-family="Liberation Sans, sans-serif">y</text>
<text x="537.9" y="431.4" font-size="6.8" textLength="3.3" lengthAdjust="spacingAndGlyphs" fill="#000" font-family="Liberation Sans, sans-serif">t</text>
<text x="94.3" y="453.5" font-size="11.6" textLength="146.7" lengthAdjust="spacingAndGlyphs" fill="#111" stroke="none" font-family="Liberation Serif, serif"><tspan font-weight="bold">(a)</tspan> Rapidity of the muon.</text>
<text x="422.9" y="453.5" font-size="11.6" textLength="192.1" lengthAdjust="spacingAndGlyphs" fill="#111" stroke="none" font-family="Liberation Serif, serif"><tspan font-weight="bold">(b)</tspan> Rapidity of the antitop quark.</text>
</g>
</svg>
</body></html>
